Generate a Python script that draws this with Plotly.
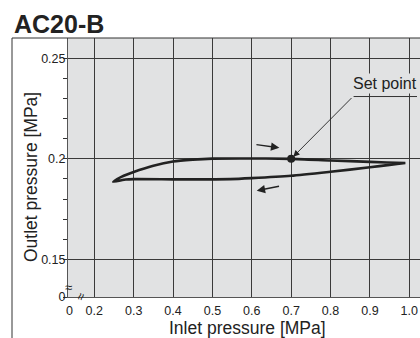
import plotly.graph_objects as go

# ---- data ----
upper_x = [0.248, 0.27, 0.30, 0.35, 0.40, 0.45, 0.50, 0.57, 0.70, 0.80, 0.90, 0.99]
upper_y = [0.1886, 0.1912, 0.1935, 0.1966, 0.1987, 0.1996, 0.2001, 0.2002, 0.2000, 0.1992, 0.1985, 0.1979]
lower_x = [0.99, 0.95, 0.90, 0.80, 0.70, 0.60, 0.545, 0.45, 0.40, 0.30, 0.28, 0.248]
lower_y = [0.1979, 0.1970, 0.1958, 0.1936, 0.1916, 0.1904, 0.1899, 0.1898, 0.1898, 0.1899, 0.1897, 0.1886]
set_point = (0.70, 0.20)

x_ticks = [0.2, 0.3, 0.4, 0.5, 0.6, 0.7, 0.8, 0.9, 1.0]
x_labels = ["0.2", "0.3", "0.4", "0.5", "0.6", "0.7", "0.8", "0.9", "1.0"]
y_major = [0.15, 0.20, 0.25]
y_major_labels = ["0.15", "0.2", "0.25"]
y_minor = [0.16, 0.17, 0.18, 0.19, 0.21, 0.22, 0.23, 0.24]

# broken-axis origin positions
X0 = 0.1372
Y0 = 0.1313
X_RANGE = [0.1332, 1.0272]
Y_RANGE = [0.1313, 0.2601]

FONT = "Liberation Sans, Arial, Helvetica, sans-serif"
INK = "#222222"
GRID = "#3a3a3a"
BG = "#e1e2e3"

fig = go.Figure()
fig.add_trace(go.Scatter(
    x=upper_x + lower_x, y=upper_y + lower_y, mode="lines",
    line=dict(color=INK, width=2.6, shape="spline", smoothing=0.6),
    hoverinfo="skip", showlegend=False))
fig.add_trace(go.Scatter(
    x=[set_point[0]], y=[set_point[1]], mode="markers",
    marker=dict(color=INK, size=8), hoverinfo="skip", showlegend=False))

fig.update_layout(
    width=420, height=338,
    margin=dict(l=68, r=0, t=38, b=41),
    paper_bgcolor="white", plot_bgcolor=BG,
    font=dict(family=FONT, color=INK, size=12.5),
    showlegend=False,
)
fig.update_xaxes(
    range=X_RANGE, tickmode="array",
    tickvals=[X0] + x_ticks, ticktext=["0"] + x_labels,
    showgrid=False, zeroline=False,
    showline=True, linecolor="#555555", linewidth=1,
    ticks="", ticklabelstandoff=2,
    minor=dict(tickmode="array", tickvals=x_ticks, showgrid=True,
               gridcolor=GRID, gridwidth=1, ticks=""),
)
fig.update_yaxes(
    range=Y_RANGE, tickmode="array",
    tickvals=[Y0] + y_major, ticktext=["0"] + y_major_labels,
    showgrid=True, gridcolor=GRID, gridwidth=1, zeroline=False,
    showline=True, linecolor="#555555", linewidth=1,
    ticks="outside", ticklen=4, tickcolor="#333333", ticklabelstandoff=-5,
    minor=dict(tickmode="array", tickvals=y_minor, ticks="outside",
               ticklen=4, tickcolor="#333333", showgrid=False),
)

def px_x(p):
    return (p - 68) / 352.0

def px_y(p):
    return (297 - p) / 259.0

# outer frame
fig.add_shape(type="line", xref="paper", yref="paper",
              x0=px_x(12), x1=1.0, y0=1.0, y1=1.0,
              line=dict(color="#333333", width=1))
fig.add_shape(type="line", xref="paper", yref="paper",
              x0=px_x(12), x1=px_x(12), y0=1.0, y1=px_y(338),
              line=dict(color="#333333", width=1))

# title
fig.add_annotation(text="<b>AC20-B</b>", xref="paper", yref="paper",
                   x=px_x(12), y=px_y(24), xanchor="left", yanchor="middle",
                   showarrow=False, font=dict(size=25, color=INK))
# axis titles
fig.add_annotation(text="Inlet pressure [MPa]", xref="paper", yref="paper",
                   x=px_x(247), y=px_y(328), xanchor="center", yanchor="middle",
                   showarrow=False, font=dict(size=17.5, color=INK))
fig.add_annotation(text="Outlet pressure [MPa]", xref="paper", yref="paper",
                   x=px_x(31), y=px_y(177), xanchor="center", yanchor="middle",
                   textangle=-90, showarrow=False, font=dict(size=17.5, color=INK))

# direction arrows
fig.add_annotation(x=0.670, y=0.2055, ax=0.608, ay=0.2072, xref="x", yref="y",
                   axref="x", ayref="y", text="", showarrow=True,
                   arrowhead=2, arrowsize=1.2, arrowwidth=1.4, arrowcolor=INK)
fig.add_annotation(x=0.6125, y=0.1842, ax=0.673, ay=0.1865, xref="x", yref="y",
                   axref="x", ayref="y", text="", showarrow=True,
                   arrowhead=2, arrowsize=1.2, arrowwidth=1.4, arrowcolor=INK)

# set point label
fig.add_annotation(x=set_point[0], y=set_point[1], ax=0.857, ay=0.2310,
                   xref="x", yref="y", axref="x", ayref="y", text="",
                   showarrow=True, arrowhead=2, arrowsize=1.4, arrowwidth=0.9,
                   arrowcolor=INK, standoff=3)
fig.add_annotation(x=0.9395, y=0.2375, xref="x", yref="y", text="Set point",
                   showarrow=False, bgcolor=BG, borderpad=1,
                   font=dict(size=16, color=INK))
fig.add_shape(type="line", xref="x", yref="y", x0=0.8585, x1=1.0196,
              y0=0.2310, y1=0.2310, line=dict(color="#333333", width=1))

# axis break marks
fig.add_annotation(x=X_RANGE[0], y=0.1362, xref="x", yref="y", text="≈",
                   showarrow=False, font=dict(size=13, color=INK))
fig.add_annotation(x=0.1637, y=Y_RANGE[0], xref="x", yref="y", text="≈",
                   textangle=-70, showarrow=False, font=dict(size=13, color=INK))

fig.write_html("out.html", config={"displayModeBar": False, "staticPlot": True})

# remove the default page margin so the figure sits at the window origin
with open("out.html", "r", encoding="utf-8") as f:
    html = f.read()
html = html.replace("<head>", "<head><style>html,body{margin:0;padding:0;overflow:hidden;}</style>", 1)
with open("out.html", "w", encoding="utf-8") as f:
    f.write(html)
